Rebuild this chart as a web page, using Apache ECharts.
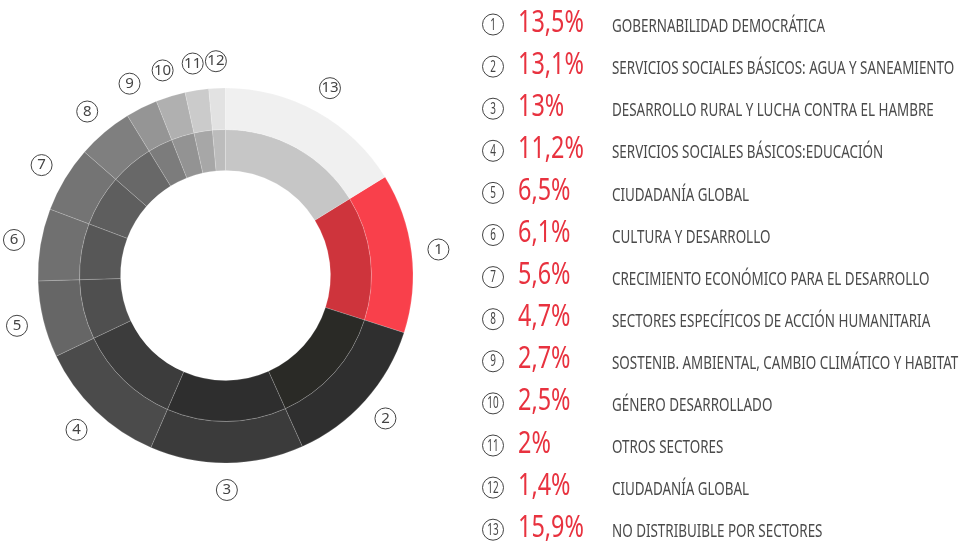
<!DOCTYPE html>
<html>
<head>
<meta charset="utf-8">
<script src="https://cdn.jsdelivr.net/npm/echarts@6/dist/echarts.min.js"></script>
<style>
    html, body { margin: 0; padding: 0; background: #fff; }
    #main { width: 961px; height: 543px; }
</style>
</head>
<body>
<div id="main"></div>
<script>
// 数据
var nums = ['1', '2', '3', '4', '5', '6', '7', '8', '9', '10', '11', '12', '13'];
var values = [13.5, 13.1, 13, 11.2, 6.5, 6.1, 5.6, 4.7, 2.7, 2.5, 2, 1.4, 15.9];
var sectors = [
    'GOBERNABILIDAD DEMOCRÁTICA',
    'SERVICIOS SOCIALES BÁSICOS: AGUA Y SANEAMIENTO',
    'DESARROLLO RURAL Y LUCHA CONTRA EL HAMBRE',
    'SERVICIOS SOCIALES BÁSICOS:EDUCACIÓN',
    'CIUDADANÍA GLOBAL',
    'CULTURA Y DESARROLLO',
    'CRECIMIENTO ECONÓMICO PARA EL DESARROLLO',
    'SECTORES ESPECÍFICOS DE ACCIÓN HUMANITARIA',
    'SOSTENIB. AMBIENTAL, CAMBIO CLIMÁTICO Y HABITAT',
    'GÉNERO DESARROLLADO',
    'OTROS SECTORES',
    'CIUDADANÍA GLOBAL',
    'NO DISTRIBUIBLE POR SECTORES'
];

// 颜色
var outerColors = ['#f9404b', '#2f2f2f', '#3b3b3b', '#4b4b4b', '#666666', '#707070', '#747474',
    '#7f7f7f', '#959595', '#b0b0b0', '#cbcbcb', '#e2e2e2', '#f0f0f0'];
var innerColors = ['#ce343c', '#2a2a26', '#2e2e2e', '#3c3c3c', '#4f4f4f', '#575757', '#5e5e5e',
    '#686868', '#7c7c7c', '#939393', '#a7a7a7', '#bcbcbc', '#c6c6c6'];

var family = '"Noto Sans", "Open Sans", Roboto, sans-serif';

window.onload = function () {
    var myChart = echarts.init(document.getElementById('main'));

    var total = 0;
    for (var i = 0; i < values.length; i++) {
        total += values[i];
    }
    // 最后一项从12点钟开始
    var startAngle = 90 - 360 * values[values.length - 1] / total;

    function makeData(colors) {
        var arr = [];
        for (var i = 0; i < nums.length; i++) {
            arr.push({
                name: nums[i],
                value: values[i],
                itemStyle: colors ? { color: colors[i] } : undefined
            });
        }
        return arr;
    }

    function pctText(v) {
        return String(v).replace('.', ',') + '%';
    }

    // 右侧说明（没有窄体字，用scaleX压窄）
    var rows = [];
    var rowTop = 24.5, rowStep = 42.1;
    for (var i = 0; i < nums.length; i++) {
        var y = rowTop + i * rowStep;
        rows.push({
            type: 'circle',
            shape: { cx: 493, cy: y, r: 10.5 },
            style: { fill: 'none', stroke: '#444', lineWidth: 1 }
        });
        rows.push({
            type: 'text',
            x: 493, y: y + 0.5,
            scaleX: 0.62,
            style: {
                text: nums[i], font: '16px ' + family, fill: '#444',
                align: 'center', verticalAlign: 'middle', textAlign: 'center', textVerticalAlign: 'middle'
            }
        });
        rows.push({
            type: 'text',
            x: 518, y: y - 1.5,
            scaleX: 0.78,
            style: {
                text: pctText(values[i]), font: '30px ' + family, fill: '#e8323f',
                align: 'left', verticalAlign: 'middle', textAlign: 'left', textVerticalAlign: 'middle'
            }
        });
        rows.push({
            type: 'text',
            x: 612, y: y + 2.5,
            scaleX: 0.745,
            style: {
                text: sectors[i], font: '18px ' + family, fill: '#4a4a4a',
                align: 'left', verticalAlign: 'middle', textAlign: 'left', textVerticalAlign: 'middle'
            }
        });
    }

    var center = [225.5, 275.5];
    var sectorBorder = {
        borderColor: 'rgba(255,255,255,0.28)',
        borderWidth: 0.6
    };

    var option = {
        backgroundColor: '#fff',
        animation: false,
        tooltip: {
            trigger: 'item',
            formatter: function (p) {
                var idx = nums.indexOf(p.name);
                return p.name + '. ' + sectors[idx] + ': ' + pctText(values[idx]);
            }
        },
        graphic: {
            elements: [{
                type: 'group',
                silent: true,
                children: rows
            }]
        },
        series: [
            {
                name: 'interior',
                type: 'pie',
                center: center,
                radius: [105, 146],
                startAngle: startAngle,
                clockwise: true,
                label: { show: false },
                labelLine: { show: false },
                emphasis: { scale: false },
                itemStyle: sectorBorder,
                data: makeData(innerColors)
            },
            {
                name: 'exterior',
                type: 'pie',
                center: center,
                radius: [146, 187.5],
                startAngle: startAngle,
                clockwise: true,
                label: { show: false },
                labelLine: { show: false },
                emphasis: { scale: false },
                itemStyle: sectorBorder,
                data: makeData(outerColors)
            },
            {
                // 外圈编号
                name: 'etiquetas',
                type: 'pie',
                center: center,
                radius: [210, 213],
                startAngle: startAngle,
                clockwise: true,
                silent: true,
                itemStyle: { color: 'rgba(0,0,0,0)' },
                label: {
                    show: true,
                    position: 'inside',
                    formatter: '{c|{b}}',
                    rich: {
                        c: {
                            width: 21,
                            height: 21,
                            lineHeight: 21,
                            align: 'center',
                            borderColor: '#444',
                            borderWidth: 1,
                            borderRadius: 11,
                            fontSize: 15,
                            color: '#444',
                            fontFamily: family
                        }
                    }
                },
                labelLine: { show: false },
                emphasis: { disabled: true },
                data: makeData(null)
            }
        ]
    };

    myChart.setOption(option);
};
</script>
</body>
</html>
